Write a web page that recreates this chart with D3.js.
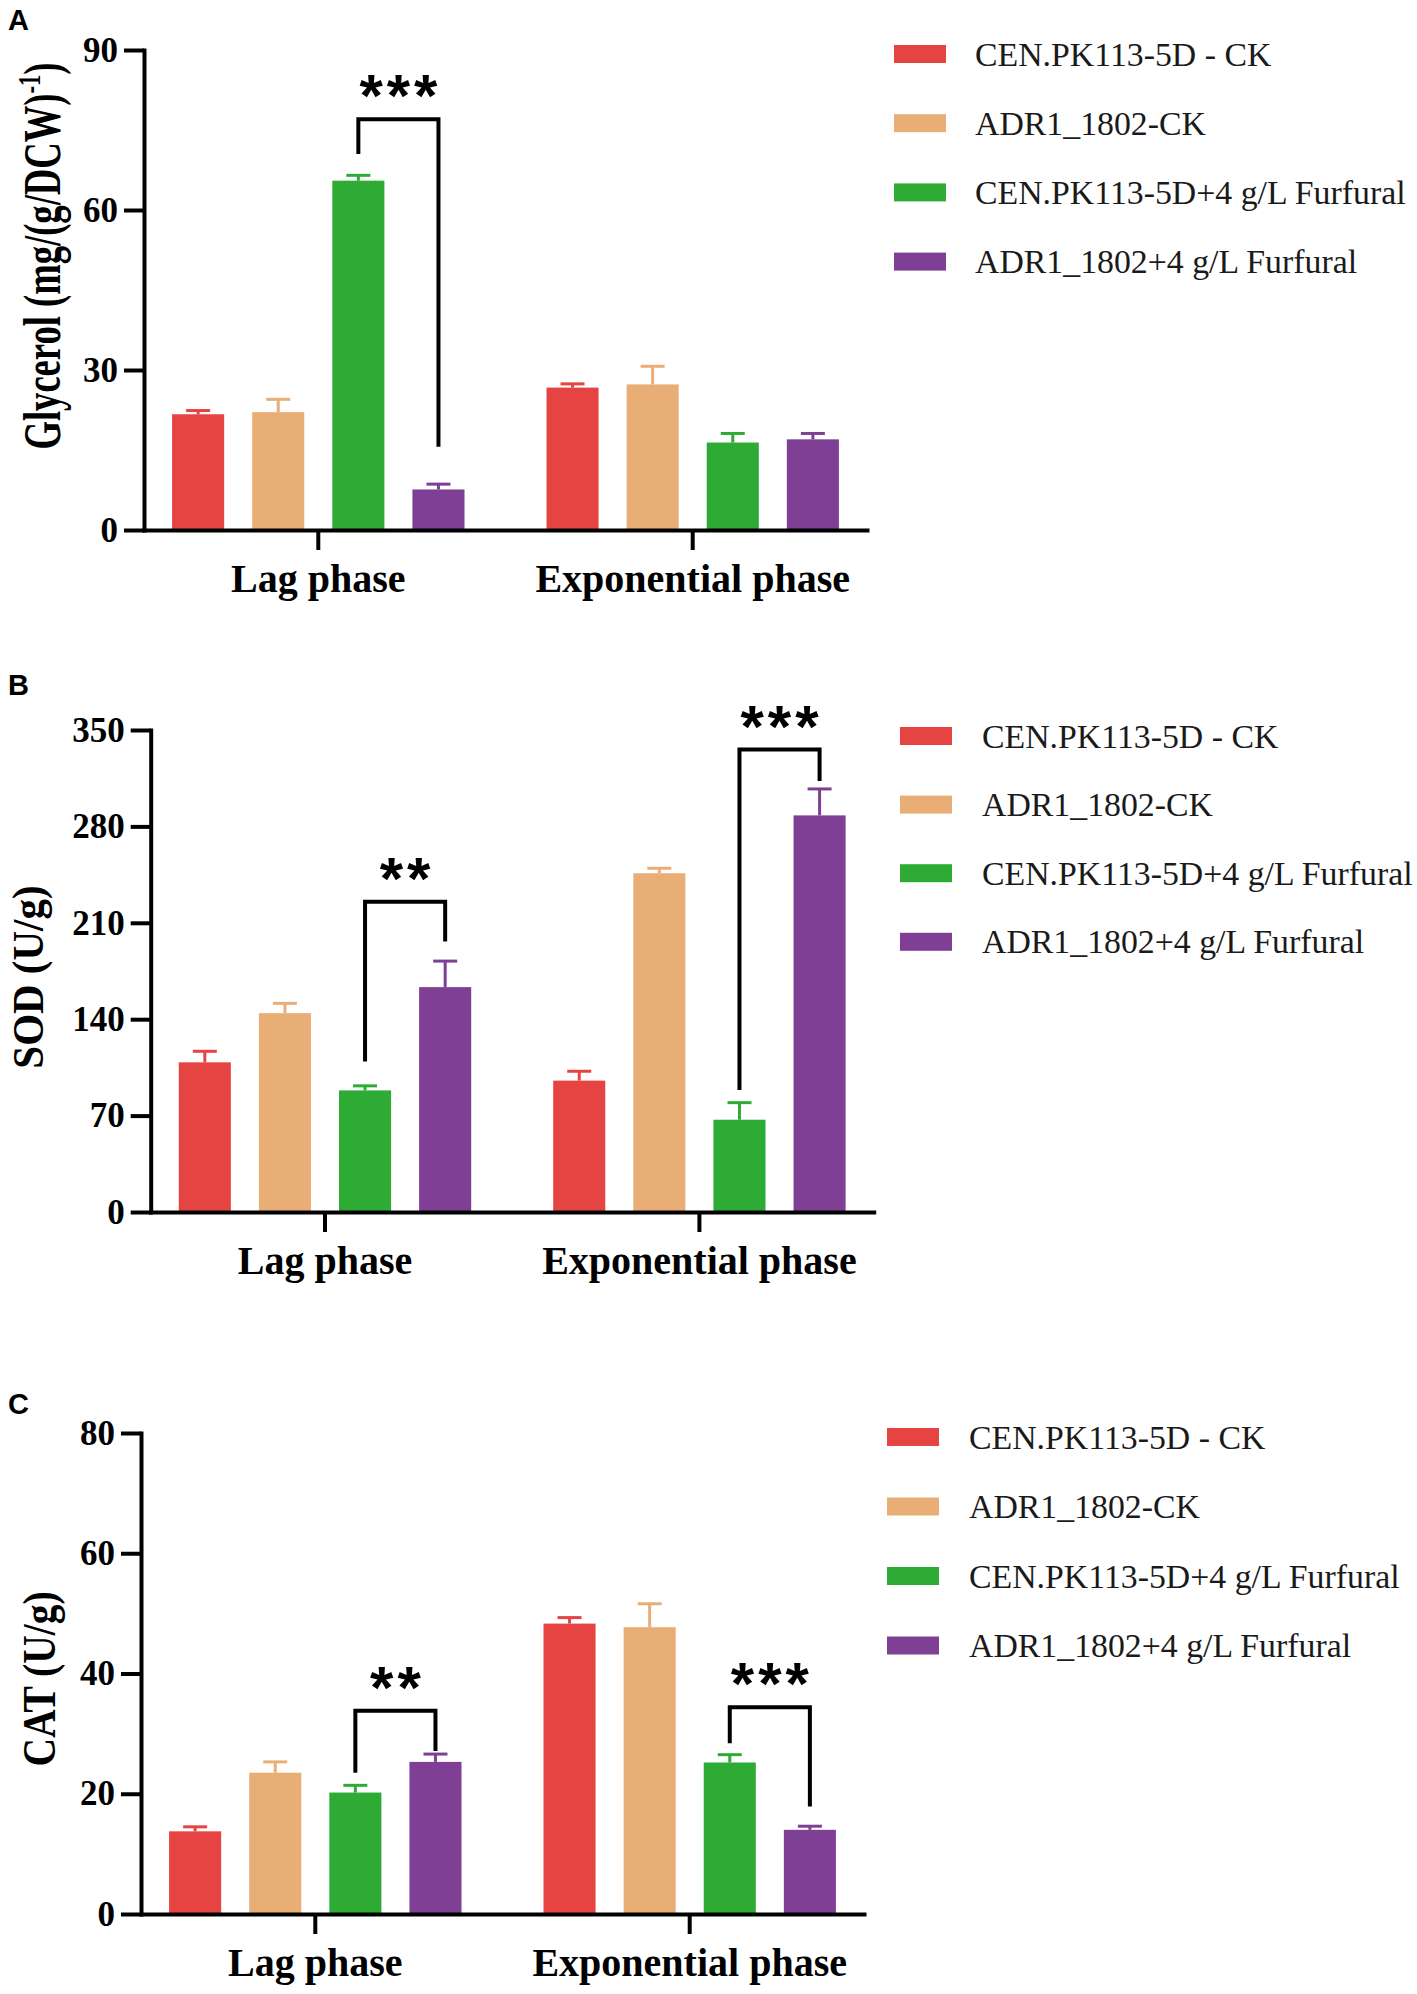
<!DOCTYPE html>
<html>
<head>
<meta charset="utf-8">
<script src="https://cdn.jsdelivr.net/npm/d3@7"></script>
<style>
  html, body { margin: 0; padding: 0; background: #fff; }
  svg { display: block; }
</style>
</head>
<body>
<svg id="chart" width="1417" height="1994"></svg>
<script>
// ---------------- DATA ----------------
const groups = ["Lag phase", "Exponential phase"];
const seriesNames = [
  "CEN.PK113-5D - CK",
  "ADR1_1802-CK",
  "CEN.PK113-5D+4 g/L Furfural",
  "ADR1_1802+4 g/L Furfural"
];
const seriesColors = ["#E54442", "#E9AE75", "#2DAB35", "#7E3F94"];

// Panel A: Glycerol
const glycerolMean = [[21.7, 22.1, 65.5, 7.6], [26.7, 27.3, 16.4, 17.0]];
const glycerolErr  = [[0.7, 2.4, 1.0, 1.0], [0.7, 3.4, 1.7, 1.1]];
const glycerolTicks = [0, 30, 60, 90];
const glycerolSig = [
  { group: 0, from: 2, to: 3, top: 77.0, leftEnd: 70.5, rightEnd: 15.6, label: "***" }
];

// Panel B: SOD
const sodMean = [[108.7, 144.4, 88.3, 163.3], [95.4, 246.0, 67.0, 288.0]];
const sodErr  = [[8.0, 7.1, 3.3, 18.9], [6.8, 3.6, 12.4, 19.2]];
const sodTicks = [0, 70, 140, 210, 280, 350];
const sodSig = [
  { group: 0, from: 2, to: 3, top: 225.3, leftEnd: 109.3, rightEnd: 196.4, label: "**" },
  { group: 1, from: 2, to: 3, top: 335.8, leftEnd: 88.6, rightEnd: 313.0, label: "***" }
];

// Panel C: CAT
const catMean = [[13.75, 23.5, 20.2, 25.3], [48.3, 47.7, 25.2, 14.0]];
const catErr  = [[0.75, 1.8, 1.2, 1.3], [1.0, 3.9, 1.3, 0.6]];
const catTicks = [0, 20, 40, 60, 80];
const catSig = [
  { group: 0, from: 2, to: 3, top: 33.8, leftEnd: 23.5, rightEnd: 27.1, label: "**" },
  { group: 1, from: 2, to: 3, top: 34.4, leftEnd: 28.4, rightEnd: 17.9, label: "***" }
];

// ---------------- LAYOUT ----------------
const SERIF = "'Liberation Serif','Times New Roman',Times,serif";
const SANS = "'Liberation Sans',Arial,Helvetica,sans-serif";
const plotW = 723;

const panels = [
  { letter: "A", letterY: 29.5, axisX: 144, y0: 530, y1: 50, mean: glycerolMean, err: glycerolErr,
    ticks: glycerolTicks, sig: glycerolSig,
    title: ["Glycerol (mg/(g/DCW)", "-1", ")"], titleX: 60, titleY: 256, titleSize: 36.6, titleK: 1.42,
    legX: 894, legTextX: 975, legY0: 54, legDy: 69.2 },
  { letter: "B", letterY: 695, axisX: 150.7, y0: 1212, y1: 730, mean: sodMean, err: sodErr,
    ticks: sodTicks, sig: sodSig,
    title: ["SOD (U/g)"], titleX: 43, titleY: 977, titleSize: 41, titleK: 1.06,
    legX: 900, legTextX: 982, legY0: 736, legDy: 68.6 },
  { letter: "C", letterY: 1414, axisX: 141, y0: 1914, y1: 1433, mean: catMean, err: catErr,
    ticks: catTicks, sig: catSig,
    title: ["CAT (U/g)"], titleX: 54.5, titleY: 1679, titleSize: 39.5, titleK: 1.2,
    legX: 887, legTextX: 969, legY0: 1437, legDy: 69.5 }
];

const svg = d3.select("#chart");

panels.forEach(p => {
  const g = svg.append("g");
  const yMax = p.ticks[p.ticks.length - 1];
  const y = d3.scaleLinear().domain([0, yMax]).range([p.y0, p.y1]);
  const x = d3.scaleBand().domain(groups).range([p.axisX, p.axisX + plotW])
    .paddingInner(0.219).paddingOuter(0.075);
  const xs = d3.scaleBand().domain(d3.range(seriesNames.length)).range([0, x.bandwidth()])
    .paddingInner(0.35);
  const cx = (gi, si) => x(groups[gi]) + xs(si) + xs.bandwidth() / 2;

  // panel letter
  g.append("text").attr("x", 8).attr("y", p.letterY)
    .attr("font-family", SANS).attr("font-weight", "bold").attr("font-size", 29)
    .attr("fill", "#000").text(p.letter);

  // bars
  const bars = [];
  groups.forEach((grp, gi) => seriesNames.forEach((s, si) => {
    bars.push({ gi, si, v: p.mean[gi][si], e: p.err[gi][si] });
  }));
  g.selectAll("rect.bar").data(bars).enter().append("rect")
    .attr("class", "bar")
    .attr("x", d => x(groups[d.gi]) + xs(d.si))
    .attr("width", xs.bandwidth())
    .attr("y", d => y(d.v))
    .attr("height", d => y(0) - y(d.v))
    .attr("fill", d => seriesColors[d.si]);

  // error bars (upper only)
  const eb = g.selectAll("g.err").data(bars).enter().append("g").attr("class", "err")
    .attr("stroke", d => seriesColors[d.si]).attr("stroke-width", 3);
  eb.append("line")
    .attr("x1", d => cx(d.gi, d.si)).attr("x2", d => cx(d.gi, d.si))
    .attr("y1", d => y(d.v)).attr("y2", d => y(d.v + d.e));
  eb.append("line")
    .attr("x1", d => cx(d.gi, d.si) - 12).attr("x2", d => cx(d.gi, d.si) + 12)
    .attr("y1", d => y(d.v + d.e)).attr("y2", d => y(d.v + d.e));

  // axes
  const yAxis = g.append("g").attr("transform", `translate(${p.axisX},0)`)
    .call(d3.axisLeft(y).tickValues(p.ticks).tickSize(20).tickSizeOuter(0).tickPadding(6));
  const xAxis = g.append("g").attr("transform", `translate(0,${p.y0})`)
    .call(d3.axisBottom(x).tickSize(20).tickSizeOuter(0).tickPadding(13.5));
  [yAxis, xAxis].forEach(a => {
    a.select(".domain").attr("stroke", "#000").attr("stroke-width", 4).attr("stroke-linecap", "square");
    a.selectAll(".tick line").attr("stroke", "#000").attr("stroke-width", 4);
  });
  yAxis.selectAll(".tick text").attr("font-family", SERIF).attr("font-weight", "bold")
    .attr("font-size", 35).attr("fill", "#000");
  xAxis.selectAll(".tick text").attr("font-family", SERIF).attr("font-weight", "bold")
    .attr("font-size", 40).attr("fill", "#000");

  // y-axis title
  const t = g.append("text")
    .attr("transform", `translate(${p.titleX},${p.titleY}) rotate(-90) scale(1,${p.titleK})`)
    .attr("text-anchor", "middle")
    .attr("font-family", SERIF).attr("font-weight", "bold").attr("font-size", p.titleSize)
    .attr("fill", "#000");
  t.append("tspan").text(p.title[0]);
  if (p.title.length > 1) {
    t.append("tspan").attr("dy", -p.titleSize * 0.38).attr("font-size", p.titleSize * 0.62).text(p.title[1]);
    t.append("tspan").attr("dy", p.titleSize * 0.38).text(p.title[2]);
  }

  // significance brackets
  p.sig.forEach(s => {
    const xl = cx(s.group, s.from), xr = cx(s.group, s.to);
    g.append("path")
      .attr("d", `M${xl},${y(s.leftEnd)}V${y(s.top)}H${xr}V${y(s.rightEnd)}`)
      .attr("fill", "none").attr("stroke", "#000").attr("stroke-width", 4);
    g.append("text")
      .attr("x", (xl + xr) / 2 + 2).attr("y", y(s.top) - 3)
      .attr("text-anchor", "middle")
      .attr("font-family", SANS).attr("font-weight", "bold").attr("font-size", 60)
      .attr("letter-spacing", 4).attr("fill", "#000")
      .text(s.label);
  });

  // legend
  const leg = g.selectAll("g.leg").data(seriesNames).enter().append("g").attr("class", "leg")
    .attr("transform", (d, i) => `translate(0,${p.legY0 + i * p.legDy})`);
  leg.append("rect").attr("x", p.legX).attr("y", -9).attr("width", 52).attr("height", 18)
    .attr("fill", (d, i) => seriesColors[i]);
  leg.append("text").attr("x", p.legTextX).attr("y", 11.5)
    .attr("font-family", SERIF).attr("font-size", 33.8).attr("fill", "#1a1a1a")
    .text(d => d);
});
</script>
</body>
</html>
